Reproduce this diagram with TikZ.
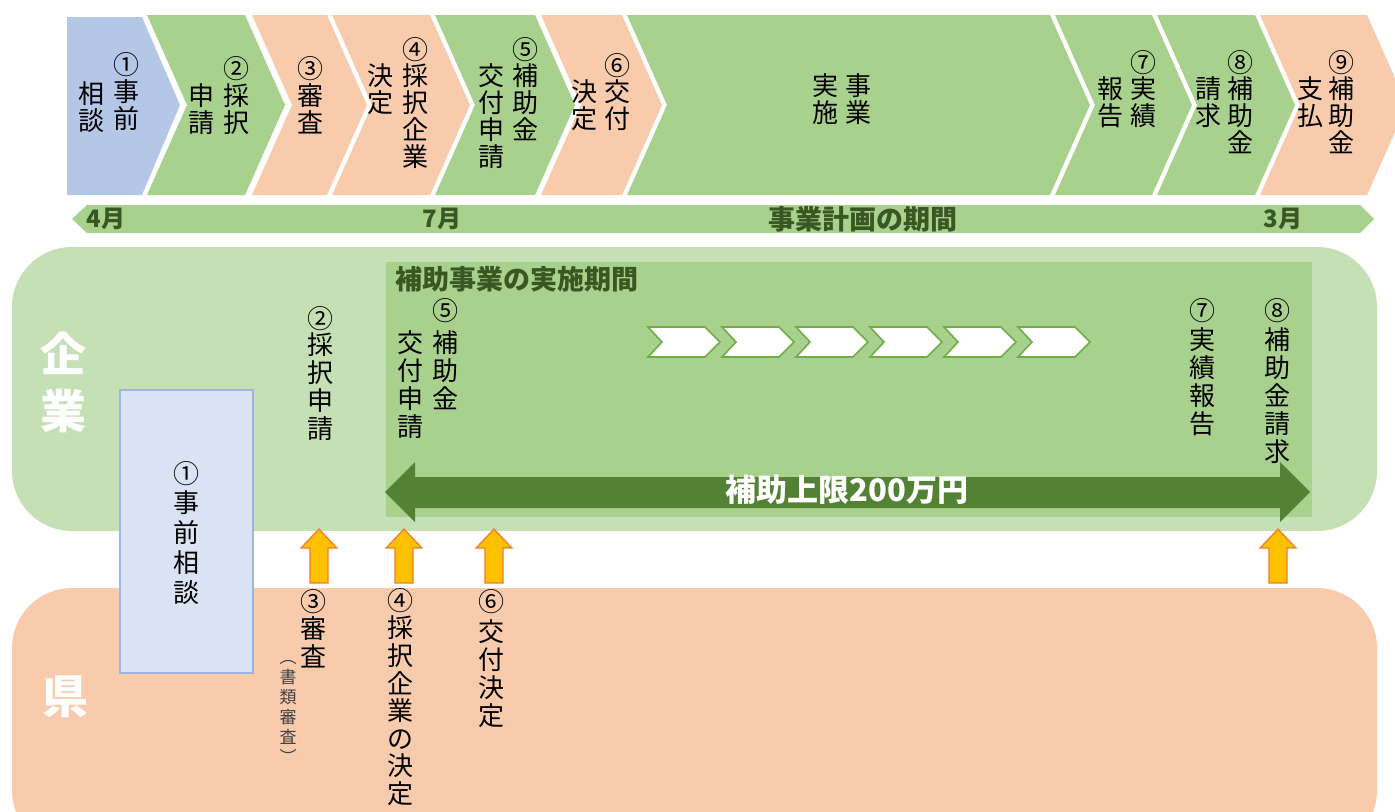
\documentclass[tikz,border=0pt]{standalone}
\usepackage{fontspec}
\setmainfont{Noto Sans CJK JP}
\definecolor{cblue}{HTML}{B4C7E7}
\definecolor{cgreen}{HTML}{A9D18E}
\definecolor{corange}{HTML}{F8CBAD}
\definecolor{cpale}{HTML}{C5E0B4}
\definecolor{cdark}{HTML}{548235}
\definecolor{ctext}{HTML}{385723}
\definecolor{cbox}{HTML}{DAE3F3}
\definecolor{cboxb}{HTML}{9DB5E0}
\definecolor{cyel}{HTML}{FFC000}
\definecolor{cyelb}{HTML}{ED7D31}
\definecolor{cline}{HTML}{70AD47}
\tikzset{
  ch/.style={inner sep=0pt, font=\fontsize{13}{13}\selectfont, text height=11.4pt, text depth=1.6pt},
  chs/.style={inner sep=0pt, font=\fontsize{8.5}{8.5}\selectfont, text height=7.5pt, text depth=1pt, text=black!75},
  mon/.style={inner sep=0pt, font=\fontsize{12}{12}\selectfont\bfseries, text=ctext},
  ttl/.style={inner sep=0pt, font=\fontsize{13.5}{13.5}\selectfont\bfseries, text=ctext},
  big/.style={inner sep=0pt, font=\fontsize{23}{23}\selectfont\bfseries, text=white},
  uparrow/.style={fill=cyel, draw=cyelb, line width=0.6pt},
  smallchev/.style={fill=white, draw=cline, line width=0.8pt},
}
\newcommand{\vcol}[5]{\foreach \c [count=\i from 0] in {#5}{\node[ch] (#1-\i) at (#2,{#3+\i*#4}) {\c};}}
\newcommand{\chev}[3]{\fill[#3] (#1,15) -- (#2,15) -- (#2+40,105) -- (#2,195) -- (#1,195) -- (#1+40,105) -- cycle;}
\newcommand{\uparr}[1]{\draw[uparrow] (#1,529) -- (#1+18,548) -- (#1+9,548) -- (#1+9,583) -- (#1-9,583) -- (#1-9,548) -- (#1-18,548) -- cycle;}
\newcommand{\wchev}[1]{\draw[smallchev] (#1,327) -- (#1+57,327) -- (#1+72,342) -- (#1+57,357) -- (#1,357) -- (#1+14,342) -- cycle;}
\begin{document}
\begin{tikzpicture}[x=0.5pt,y=-0.5pt]
\useasboundingbox (0,0) rectangle (1395,811);
\clip (0,0) rectangle (1395,811);
% ---- top chevrons
\fill[cblue] (67,17) -- (142,17) -- (180,105) -- (142,195) -- (67,195) -- cycle;
\chev{147}{245}{cgreen}
\chev{252}{327}{corange}
\chev{332}{430}{corange}
\chev{435}{535}{cgreen}
\chev{541}{622}{corange}
\chev{627}{1050}{cgreen}
\chev{1055}{1152}{cgreen}
\chev{1157}{1255}{cgreen}
\chev{1260}{1367}{corange}
% texts in chevrons
\node[ch] (n1) at (126,65) {①}; \vcol{t1r}{126}{92}{27}{事,前} \vcol{t1l}{91}{94}{27}{相,談}
\node[ch] (n2) at (236,69) {②}; \vcol{t2r}{236}{96}{27}{採,択} \vcol{t2l}{201}{96}{27}{申,請}
\node[ch] (n3) at (310,69) {③}; \vcol{t3}{310}{96}{27}{審,査}
\node[ch] (n4) at (415,50) {④}; \vcol{t4r}{415}{76}{27}{採,択,企,業} \vcol{t4l}{380}{76}{27}{決,定}
\node[ch] (n5) at (525,50) {⑤}; \vcol{t5r}{525}{76}{27}{補,助,金} \vcol{t5l}{491}{76}{27}{交,付,申,請}
\node[ch] (n6) at (617,66) {⑥}; \vcol{t6r}{617}{92}{27}{交,付} \vcol{t6l}{584}{92}{27}{決,定}
\vcol{t7r}{858}{86}{27}{事,業} \vcol{t7l}{825}{86}{27}{実,施}
\node[ch] (n7) at (1143,63) {⑦}; \vcol{t8r}{1143}{89}{27}{実,績} \vcol{t8l}{1110}{89}{27}{報,告}
\node[ch] (n8) at (1240,63) {⑧}; \vcol{t9r}{1240}{89}{27}{補,助,金} \vcol{t9l}{1208}{89}{27}{請,求}
\node[ch] (n9) at (1341,63) {⑨}; \vcol{t10r}{1341}{89}{27}{補,助,金} \vcol{t10l}{1310}{89}{27}{支,払}
% ---- month bar
\fill[cgreen] (87,205) -- (1360,205) -- (1374,219) -- (1360,233) -- (87,233) -- (72,219) -- cycle;
\node[mon] (m4) at (106,219) {4月};
\node[mon] (m7) at (442,219) {7月};
\node[ttl] (mp) at (863,219) {事業計画の期間};
\node[mon] (m3) at (1283,219) {3月};
% ---- company panel
\fill[cpale, rounded corners=30] (12,247) rectangle (1377,531);
\fill[cgreen] (386,262) rectangle (1312,517);
\node[ttl, anchor=west] (period) at (395,279) {補助事業の実施期間};
\foreach \k in {0,...,5} {\wchev{648+74*\k}}
\fill[cdark] (385,492) -- (415,462) -- (415,477) -- (1280,477) -- (1280,462) -- (1310,492) -- (1280,522) -- (1280,508) -- (415,508) -- (415,522) -- cycle;
\node[inner sep=0pt, font=\fontsize{15.5}{15.5}\selectfont\bfseries, text=white] (limit) at (847,490) {補助上限200万円};
\node[big] (k1) at (63,353) {企};
\node[big] (k2) at (63,411) {業};
% ---- prefecture panel
\fill[corange, rounded corners=30] (12,588) rectangle (1377,850);
\node[big] (ken) at (65,697) {県};
% ---- consultation box
\filldraw[fill=cbox, draw=cboxb, line width=0.6pt] (120,390) rectangle (253,673);
\node[ch] (c1) at (186,474) {①}; \vcol{c1t}{186}{503}{30}{事,前,相,談}
% ---- middle texts
\node[ch] (c2) at (320,319) {②}; \vcol{c2t}{320}{345}{28}{採,択,申,請}
\node[ch] (c5) at (445,311) {⑤}; \vcol{c5r}{445}{343}{28}{補,助,金} \vcol{c5l}{410}{343}{28}{交,付,申,請}
\node[ch] (c7) at (1202,311) {⑦}; \vcol{c7t}{1202}{340}{28}{実,績,報,告}
\node[ch] (c8) at (1277,311) {⑧}; \vcol{c8t}{1277}{340}{28}{補,助,金,請,求}
% ---- arrows
\uparr{319}
\uparr{404}
\uparr{494}
\uparr{1278}
% ---- bottom texts
\node[ch] (b3) at (313,602) {③}; \vcol{b3t}{313}{629}{28}{審,査}
\foreach \c [count=\i from 0] in {︵,書,類,審,査,︶} {\node[chs] (b3s-\i) at (288,{657+\i*20}) {\c};}
\node[ch] (b4) at (400,601) {④}; \vcol{b4t}{400}{628}{27.6}{採,択,企,業,の,決,定}
\node[ch] (b6) at (491,602) {⑥}; \vcol{b6t}{491}{632}{28}{交,付,決,定}
\end{tikzpicture}
\end{document}
